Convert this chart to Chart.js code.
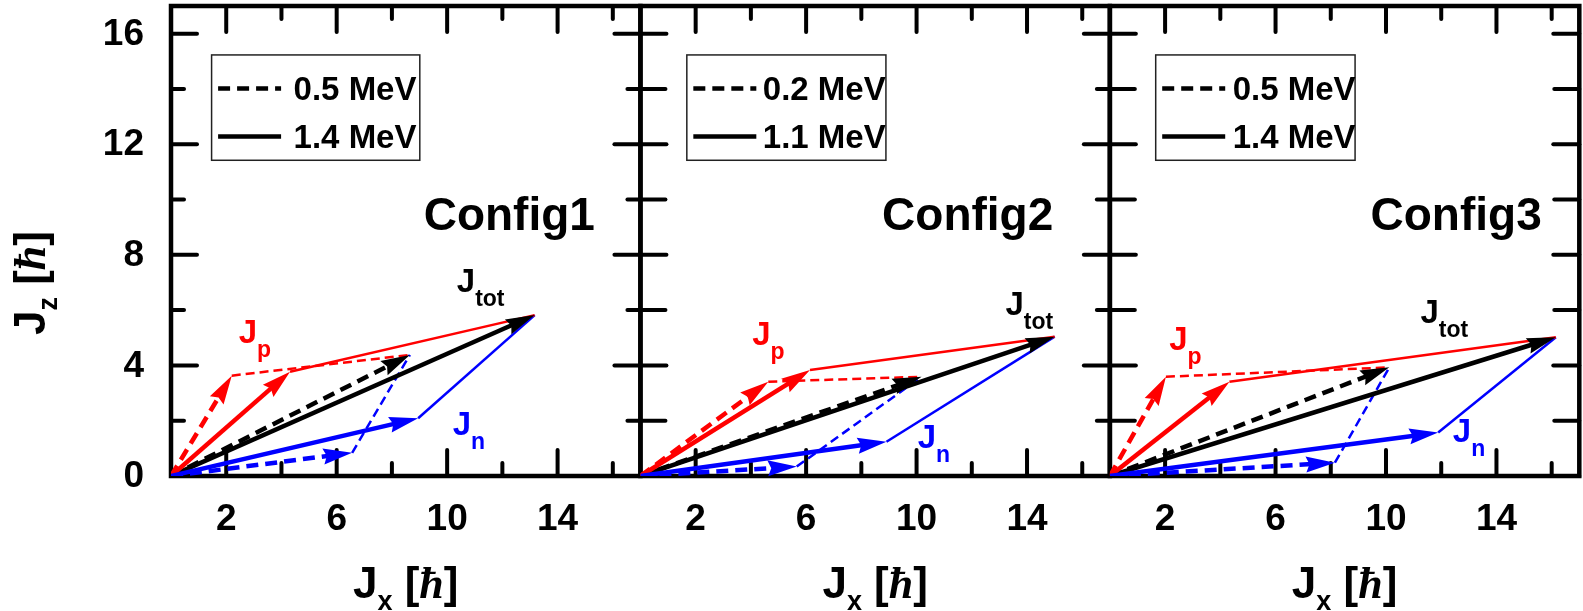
<!DOCTYPE html>
<html>
<head>
<meta charset="utf-8">
<script src="https://cdn.jsdelivr.net/npm/chart.js@4.4.0/dist/chart.umd.min.js"></script>
<style>
  html, body { margin: 0; padding: 0; background: #fff; }
  #wrap { position: relative; width: 1583px; height: 611px; }
  #wrap canvas { position: absolute; left: 0; top: 0; }
</style>
</head>
<body>
<div id="wrap">
  <canvas id="c0" width="1583" height="611"></canvas>
  <canvas id="c1" width="1583" height="611"></canvas>
  <canvas id="c2" width="1583" height="611"></canvas>
</div>
<script>
// Angular momentum vectors [Jx, Jz] (units of hbar)
const configs = ['Config1', 'Config2', 'Config3'];
const lowLabels = ['0.5 MeV', '0.2 MeV', '0.5 MeV'];
const highLabels = ['1.4 MeV', '1.1 MeV', '1.4 MeV'];

// dashed vectors (lower rotational frequency)
const jpLow   = [[2.2, 3.63], [4.63, 3.41], [2.03, 3.59]];
const jnLow   = [[6.56, 0.84], [5.66, 0.34], [8.15, 0.48]];
const jtotLow = [[8.65, 4.38], [10.18, 3.59], [10.12, 3.93]];

// solid vectors (higher rotational frequency)
const jpHigh   = [[4.31, 3.77], [6.14, 3.83], [4.33, 3.41]];
const jnHigh   = [[8.95, 2.09], [8.91, 1.24], [11.89, 1.57]];
const jtotHigh = [[13.17, 5.82], [15.0, 5.04], [16.15, 5.02]];

// axes
const axisMax = 17;
const xMajor = [2, 6, 10, 14];
const xMinor = [4, 8, 12, 16];
const yMajor = [0, 4, 8, 12, 16];
const yMinor = [2, 6, 10, 14];

// styles / layout
const RED = '#ff0000', BLUE = '#0000ff', BLACK = '#000000';
const SANS = "'Liberation Sans', Arial, sans-serif";
const SERIF = "'Liberation Serif', 'Times New Roman', serif";
const plotLeft = 171, plotRight = 1579.3, plotTop = 6, plotBottom = 476;
const panelW = (plotRight - plotLeft) / 3;
const HEAD_LEN = 29, HEAD_W = 16;

// label anchors in data units: left edge / baseline of the "J"
const jpLabelPos   = [[2.45, 4.8], [4.05, 4.74], [2.15, 4.56]];
const jnLabelPos   = [[10.2, 1.48], [10.04, 1.0], [12.42, 1.24]];
const jtotLabelPos = [[10.35, 6.67], [13.22, 5.82], [11.25, 5.52]];
const configPos    = [[15.35, 8.9], [14.95, 8.9], [15.64, 8.9]]; // right edge / baseline
const legendX      = [[1.47, 9.01], [1.68, 8.89], [1.66, 8.88]];
const legendY      = [11.42, 15.23];
const legendTextDx = [82, 76, 77];
const yMinorLen    = [[15, 15], [27, 15], [27, 27]]; // [left, right] per panel

function vec(tip) {
  return [{ x: 0, y: 0 }, { x: tip[0], y: tip[1] }];
}
function seg(a, b) {
  return [{ x: a[0], y: a[1] }, { x: b[0], y: b[1] }];
}

// draws text pieces one after another: [text, font, dy]
function drawParts(ctx, parts, x, y, align) {
  let total = 0;
  parts.forEach(p => { ctx.font = p[1]; total += ctx.measureText(p[0]).width; });
  let cx = align === 'center' ? x - total / 2 : (align === 'right' ? x - total : x);
  ctx.textAlign = 'left';
  ctx.textBaseline = 'alphabetic';
  parts.forEach(p => {
    ctx.font = p[1];
    ctx.fillText(p[0], cx, y + (p[2] || 0));
    cx += ctx.measureText(p[0]).width;
  });
}

function makePanel(i) {
  const left = plotLeft + panelW * i;
  const right = left + panelW;

  const thinDash = [9, 5], thickDash = [12, 7];
  const datasets = [
    { data: seg(jpLow[i], jtotLow[i]), borderColor: RED, borderWidth: 2.5, borderDash: thinDash, order: 3 },
    { data: seg(jnLow[i], jtotLow[i]), borderColor: BLUE, borderWidth: 2.5, borderDash: thinDash, order: 3 },
    { data: seg(jpHigh[i], jtotHigh[i]), borderColor: RED, borderWidth: 2.5, order: 3 },
    { data: seg(jnHigh[i], jtotHigh[i]), borderColor: BLUE, borderWidth: 2.5, order: 3 },
    { data: vec(jnLow[i]), borderColor: BLUE, borderWidth: 4.5, borderDash: thickDash, arrow: true, order: 2 },
    { data: vec(jpLow[i]), borderColor: RED, borderWidth: 4.5, borderDash: thickDash, arrow: true, order: 2 },
    { data: vec(jtotLow[i]), borderColor: BLACK, borderWidth: 4.5, borderDash: thickDash, arrow: true, order: 2 },
    { data: vec(jnHigh[i]), borderColor: BLUE, borderWidth: 4.5, arrow: true, order: 1 },
    { data: vec(jpHigh[i]), borderColor: RED, borderWidth: 4.5, arrow: true, order: 1 },
    { data: vec(jtotHigh[i]), borderColor: BLACK, borderWidth: 4.5, arrow: true, order: 1 },
  ].map(d => Object.assign({ showLine: true, pointRadius: 0, fill: false, tension: 0 }, d));

  const decor = {
    id: 'decor',
    // pull the shaft back so the arrowhead tip stays sharp
    afterDatasetsUpdate(chart) {
      chart.data.datasets.forEach((ds, k) => {
        if (!ds.arrow) return;
        const pts = chart.getDatasetMeta(k).data;
        const a = pts[0], b = pts[1];
        const dx = b.x - a.x, dy = b.y - a.y, len = Math.hypot(dx, dy);
        b.$tip = { x: b.x, y: b.y, ux: dx / len, uy: dy / len };
        b.x -= dx / len * HEAD_LEN * 0.7;
        b.y -= dy / len * HEAD_LEN * 0.7;
      });
    },
    beforeDatasetsDraw(chart) {
      const ctx = chart.ctx, a = chart.chartArea;
      const xs = chart.scales.x, ys = chart.scales.y;
      ctx.save();
      ctx.strokeStyle = BLACK;
      ctx.lineWidth = 4;
      ctx.lineCap = 'round';
      const tick = (x1, y1, x2, y2) => { ctx.beginPath(); ctx.moveTo(x1, y1); ctx.lineTo(x2, y2); ctx.stroke(); };
      xMajor.concat(xMinor).forEach(v => {
        const len = (xMajor.includes(v) ? 28 : 15) - 2;
        const px = xs.getPixelForValue(v);
        tick(px, a.bottom, px, a.bottom - len);
        tick(px, a.top, px, a.top + len);
      });
      yMajor.concat(yMinor).forEach(v => {
        const major = yMajor.includes(v);
        const py = ys.getPixelForValue(v);
        tick(a.left, py, a.left + (major ? 28 : yMinorLen[i][0]) - 2, py);
        tick(a.right, py, a.right - (major ? 28 : yMinorLen[i][1]) + 2, py);
      });
      ctx.lineCap = 'butt';
      ctx.lineWidth = 4.5;
      ctx.strokeRect(a.left, a.top, a.right - a.left, a.bottom - a.top);
      ctx.restore();
    },
    afterDatasetDraw(chart, args) {
      const ds = chart.data.datasets[args.index];
      if (!ds.arrow) return;
      const t = args.meta.data[1].$tip;
      if (!t) return;
      const ctx = chart.ctx;
      const bx = t.x - t.ux * HEAD_LEN, by = t.y - t.uy * HEAD_LEN;
      const nx = -t.uy * HEAD_W / 2, ny = t.ux * HEAD_W / 2;
      ctx.save();
      ctx.fillStyle = ds.borderColor;
      ctx.beginPath();
      ctx.moveTo(t.x, t.y);
      ctx.lineTo(bx + nx, by + ny);
      ctx.lineTo(t.x - t.ux * HEAD_LEN * 0.88, t.y - t.uy * HEAD_LEN * 0.88);
      ctx.lineTo(bx - nx, by - ny);
      ctx.closePath();
      ctx.fill();
      ctx.restore();
    },
    afterDraw(chart) {
      const ctx = chart.ctx;
      const xs = chart.scales.x, ys = chart.scales.y;
      const X = v => xs.getPixelForValue(v), Y = v => ys.getPixelForValue(v);
      ctx.save();
      ctx.fillStyle = BLACK;

      // x tick labels
      ctx.font = 'bold 37px ' + SANS;
      ctx.textAlign = 'center';
      ctx.textBaseline = 'middle';
      xMajor.forEach(v => ctx.fillText(String(v), X(v), 520));

      // y tick labels and title on the first panel only
      if (i === 0) {
        ctx.textAlign = 'right';
        yMajor.forEach(v => ctx.fillText(String(v), 144, Y(v) + 1));
        ctx.save();
        ctx.translate(45, 283);
        ctx.rotate(-Math.PI / 2);
        drawParts(ctx, [
          ['J', 'bold 44px ' + SANS, 0],
          ['z', 'bold 27px ' + SANS, 12],
          [' [', 'bold 44px ' + SANS, 0],
          ['ħ', 'italic bold 44px ' + SERIF, 0],
          [']', 'bold 44px ' + SANS, 0],
        ], 0, 0, 'center');
        ctx.restore();
      }

      // x title
      drawParts(ctx, [
        ['J', 'bold 44px ' + SANS, 0],
        ['x', 'bold 27px ' + SANS, 12],
        [' [', 'bold 44px ' + SANS, 0],
        ['ħ', 'italic bold 44px ' + SERIF, 0],
        [']', 'bold 44px ' + SANS, 0],
      ], (left + right) / 2, 598, 'center');

      // legend box
      const bx0 = X(legendX[i][0]), bx1 = X(legendX[i][1]);
      const by0 = Y(legendY[1]), by1 = Y(legendY[0]);
      ctx.strokeStyle = '#222';
      ctx.lineWidth = 1.5;
      ctx.strokeRect(bx0, by0, bx1 - bx0, by1 - by0);
      const rows = [[lowLabels[i], [12, 7], by0 + 33.5], [highLabels[i], [], by0 + 81.5]];
      rows.forEach(r => {
        ctx.strokeStyle = BLACK;
        ctx.lineWidth = 4.5;
        ctx.setLineDash(r[1]);
        ctx.beginPath();
        ctx.moveTo(bx0 + 6.5, r[2]);
        ctx.lineTo(bx0 + 69.5, r[2]);
        ctx.stroke();
        ctx.setLineDash([]);
        ctx.font = 'bold 33px ' + SANS;
        ctx.textAlign = 'left';
        ctx.textBaseline = 'alphabetic';
        ctx.fillText(r[0], bx0 + legendTextDx[i], r[2] + 11.5);
      });

      // panel name
      ctx.font = 'bold 46px ' + SANS;
      ctx.textAlign = 'right';
      ctx.textBaseline = 'alphabetic';
      ctx.fillText(configs[i], X(configPos[i][0]), Y(configPos[i][1]));

      // vector labels
      const lab = (pos, sub, color) => {
        ctx.fillStyle = color;
        drawParts(ctx, [['J', 'bold 33px ' + SANS, 0], [sub, 'bold 23px ' + SANS, 14]], X(pos[0]), Y(pos[1]), 'left');
      };
      lab(jtotLabelPos[i], 'tot', BLACK);
      lab(jpLabelPos[i], 'p', RED);
      lab(jnLabelPos[i], 'n', BLUE);
      ctx.restore();
    }
  };

  return new Chart(document.getElementById('c' + i), {
    type: 'scatter',
    data: { datasets },
    options: {
      responsive: false,
      animation: false,
      events: [],
      layout: {
        autoPadding: false,
        padding: { left: left, right: 1583 - right, top: plotTop, bottom: 611 - plotBottom },
      },
      scales: {
        x: { type: 'linear', min: 0, max: axisMax, display: false },
        y: { type: 'linear', min: 0, max: axisMax, display: false },
      },
      plugins: {
        legend: { display: false },
        tooltip: { enabled: false },
      },
    },
    plugins: [decor],
  });
}

configs.forEach((c, i) => makePanel(i));
</script>
</body>
</html>
